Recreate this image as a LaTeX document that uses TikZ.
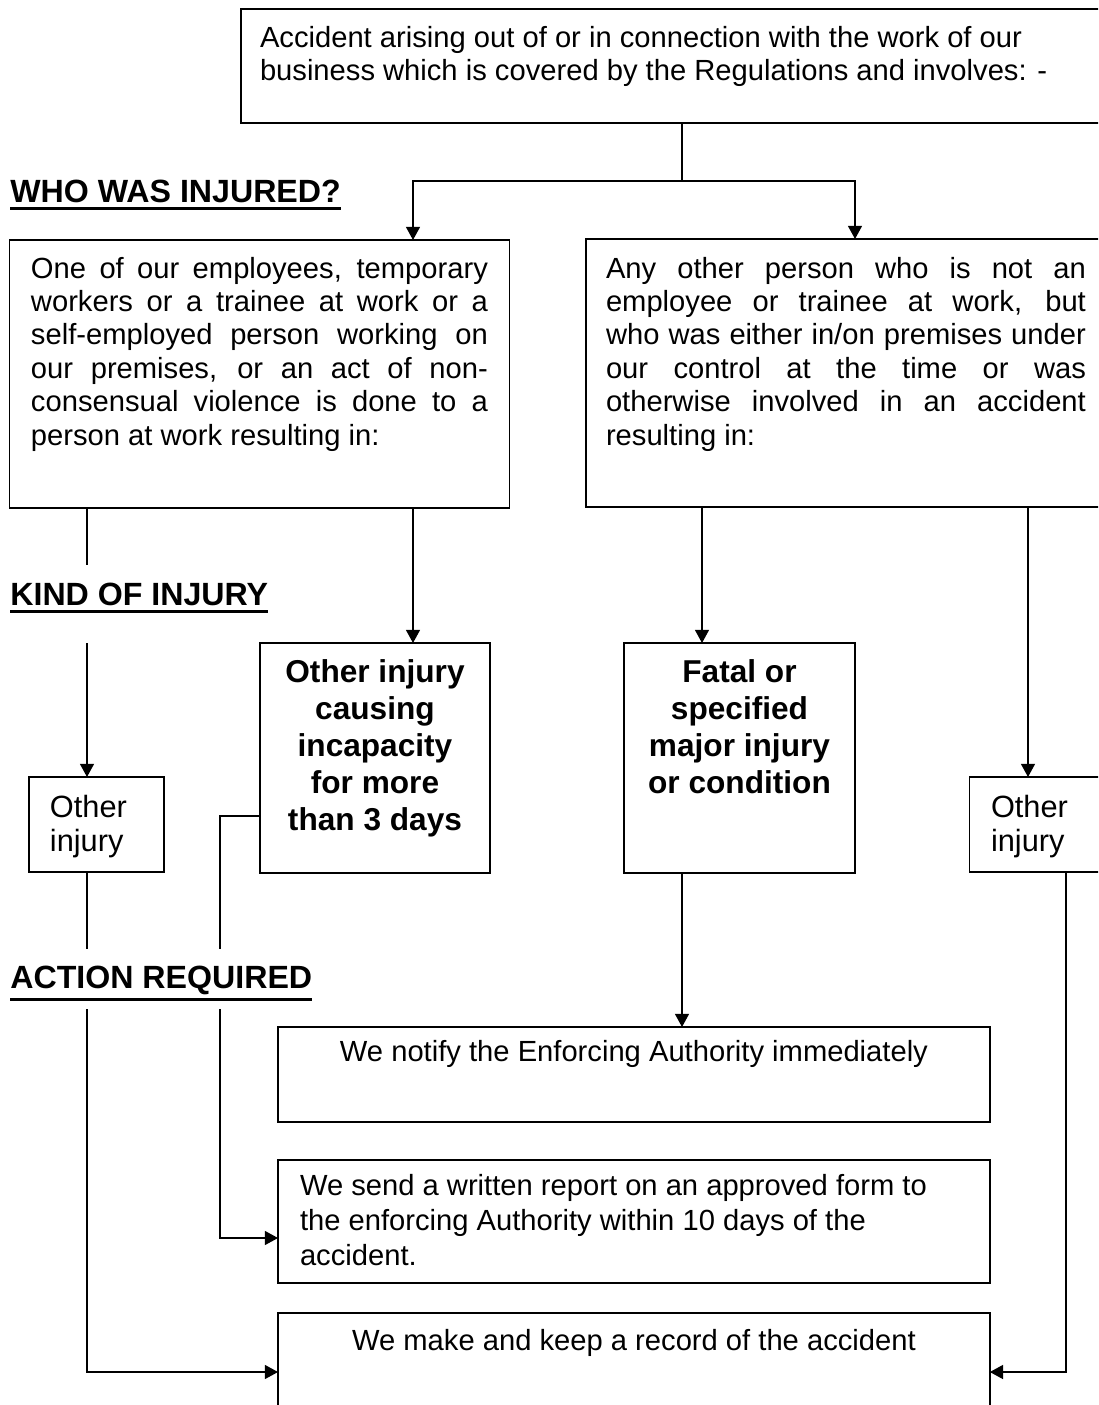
\documentclass[tikz,border=0pt]{standalone}
\usepackage{fontspec}
\setmainfont{Liberation Sans}
\usetikzlibrary{arrows.meta}

\newcommand{\boxpar}[4]{\parbox[c][#2][t]{#1}{\hyphenpenalty=10000\vspace*{#3}#4}}
\newcommand{\hdline}[1]{\vtop{\hbox{#1}\kern2pt\hrule height1.9pt}}

\begin{document}
\begin{tikzpicture}
        [%%%%%%%%%%%%%%%%%%%%%%%%%%%%%%
        x=0.02cm, y=-0.02cm,
        box/.style={draw, line width=0.8pt, anchor=north west, inner ysep=0pt, outer sep=0pt},
        body/.style={font=\fontsize{16.6}{19}\selectfont},
        big/.style={font=\fontsize{17.5}{19.2}\selectfont},
        bold/.style={font=\fontsize{18}{21}\selectfont\bfseries},
        heading/.style={anchor=base west, inner sep=0pt, font=\fontsize{18.3}{21}\selectfont\bfseries},
        conn/.style={line width=0.7pt},
        arr/.style={conn, -{Triangle[length=7.5pt,width=8pt]}},
        ]%%%%%%%%%%%%%%%%%%%%%%%%%%%%%%

        \path[use as bounding box] (0,0) rectangle (1098,1405);
        \clip (0,0) rectangle (1098,1405);

        % columns and rows of the connectors
        \coordinate (xA) at (87,0);
        \coordinate (xB) at (220,0);
        \coordinate (xC) at (413,0);
        \coordinate (xD) at (682,0);
        \coordinate (xE) at (702,0);
        \coordinate (xF) at (855,0);
        \coordinate (xG) at (1028,0);
        \coordinate (xH) at (1066,0);
        \coordinate (ySplit) at (0,181);
        \coordinate (yBend) at (0,816);
        \coordinate (yRep) at (0,1238);
        \coordinate (yRec) at (0,1372);

        % boxes
        \node[box, body, inner xsep=0.38cm] (acc) at (241,9)
          {\boxpar{17.02cm}{2.28cm}{0.34cm}{\raggedright Accident arising out of or in connection with the work of our\\ business which is covered by the Regulations and involves: -}};

        \node[box, body, inner xsep=0.43cm] (empl) at (9.5,240)
          {\boxpar{9.14cm}{5.36cm}{0.34cm}{One of our employees, temporary\linebreak workers or a trainee at work or a\linebreak self-employed person working on\linebreak our premises, or an act of non-\linebreak consensual violence is done to a\linebreak person at work resulting in:}};
        \node[box, body, inner xsep=0.4cm] (other) at (586,239)
          {\boxpar{9.6cm}{5.36cm}{0.36cm}{Any other person who is not an\linebreak employee or trainee at work, but\linebreak who was either in/on premises under\linebreak our control at the time or was\linebreak otherwise involved in an accident\linebreak resulting in:}};

        \node[box, big, inner xsep=0.42cm] (oinjL) at (29,777)
          {\boxpar{1.86cm}{1.9cm}{0.37cm}{\raggedright Other\\ injury}};
        \node[box, bold, inner xsep=0.2cm] (incap) at (260,643)
          {\boxpar{4.2cm}{4.6cm}{0.34cm}{\centering Other injury\\ causing\\ incapacity\\ for more\\ than 3 days}};
        \node[box, bold, inner xsep=0.2cm] (fatal) at (624,643)
          {\boxpar{4.22cm}{4.6cm}{0.34cm}{\centering Fatal or\\ specified\\ major injury\\ or condition}};
        \node[box, big, inner xsep=0.43cm] (oinjR) at (969.5,777)
          {\boxpar{1.86cm}{1.9cm}{0.37cm}{\raggedright Other\\ injury}};

        \node[box, body, inner xsep=0.42cm] (notify) at (278,1027)
          {\boxpar{13.4cm}{1.9cm}{0.26cm}{\centering We notify the Enforcing Authority immediately}};
        \node[box, body, font=\fontsize{16.6}{20}\selectfont, inner xsep=0.44cm] (report) at (278,1160)
          {\boxpar{13.36cm}{2.46cm}{0.28cm}{\raggedright We send a written report on an approved form to\\ the enforcing Authority within 10 days of the\\ accident.}};
        \node[box, body, inner xsep=0.42cm] (record) at (278,1313)
          {\boxpar{13.4cm}{2.6cm}{0.32cm}{\centering We make and keep a record of the accident}};

        % headings
        \node[heading] (hwho) at (10,203) {\hdline{WHO WAS INJURED?}};
        \node[heading, text height=0.814cm, text depth=0.746cm] (hkind) at (10,605.7) {\hdline{KIND OF INJURY}};
        \node[heading, text height=0.78cm, text depth=0.42cm] (hact) at (10,988) {\hdline{ACTION REQUIRED}};

        % connectors
        \draw[conn] (xD |- acc.south) -- (xD |- ySplit);
        \draw[arr] (xD |- ySplit) -| (xC |- empl.north);
        \draw[arr] (xD |- ySplit) -| (xF |- other.north);

        \draw[conn] (xA |- empl.south) -- (xA |- hkind.north);
        \draw[arr] (xA |- hkind.south) -- (xA |- oinjL.north);
        \draw[arr] (xC |- empl.south) -- (xC |- incap.north);
        \draw[arr] (xE |- other.south) -- (xE |- fatal.north);
        \draw[arr] (xG |- other.south) -- (xG |- oinjR.north);

        \draw[conn] (xA |- oinjL.south) -- (xA |- hact.north);
        \draw[arr] (xA |- hact.south) |- (record.west |- yRec);
        \draw[conn] (incap.west |- yBend) -| (xB |- hact.north);
        \draw[arr] (xB |- hact.south) |- (report.west |- yRep);
        \draw[arr] (xD |- fatal.south) -- (xD |- notify.north);
        \draw[arr] (xH |- oinjR.south) |- (record.east |- yRec);

\end{tikzpicture}
\end{document}
